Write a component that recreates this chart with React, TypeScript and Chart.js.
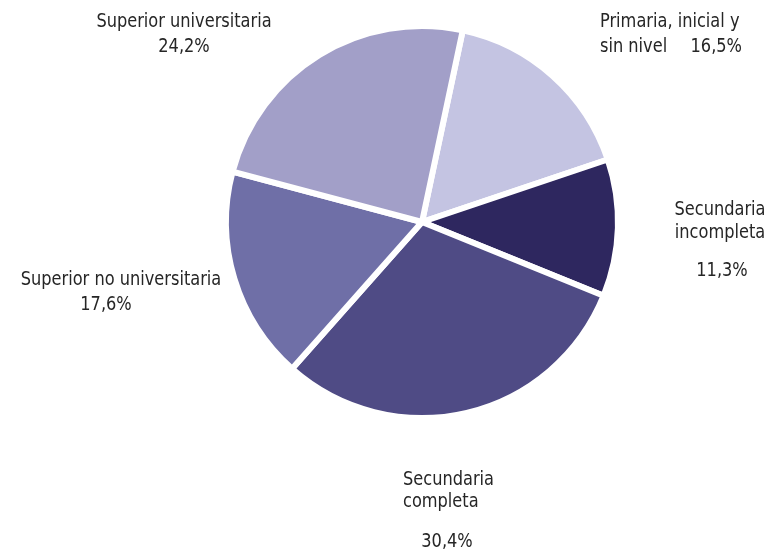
import React, { useEffect, useRef } from "react";
import { Chart, registerables } from "chart.js";

Chart.register(...registerables);

const categories = [
  "Primaria, inicial y sin nivel",
  "Secundaria incompleta",
  "Secundaria completa",
  "Superior no universitaria",
  "Superior universitaria",
];
const values = [16.5, 11.3, 30.4, 17.6, 24.2];
const valueLabels = ["16,5%", "11,3%", "30,4%", "17,6%", "24,2%"];
const colors = ["#c4c4e2", "#2e275f", "#4f4b85", "#6f6fa7", "#a29fc8"];

// label layout: lines with position relative to pie center, alignment
type Line = { text: string; dx: number; dy: number; align: CanvasTextAlign };
const labelLayout: Line[][] = [
  [
    { text: "Primaria, inicial y", dx: 178, dy: -200, align: "left" },
    { text: "sin nivel", dx: 178, dy: -175, align: "left" },
    { text: valueLabels[0], dx: 320, dy: -175, align: "right" },
  ],
  [
    { text: "Secundaria", dx: 298, dy: -12, align: "center" },
    { text: "incompleta", dx: 298, dy: 11, align: "center" },
    { text: valueLabels[1], dx: 300, dy: 49, align: "center" },
  ],
  [
    { text: "Secundaria", dx: -19, dy: 258, align: "left" },
    { text: "completa", dx: -19, dy: 280, align: "left" },
    { text: valueLabels[2], dx: 25, dy: 320, align: "center" },
  ],
  [
    { text: "Superior no universitaria", dx: -301, dy: 58, align: "center" },
    { text: valueLabels[3], dx: -316, dy: 83, align: "center" },
  ],
  [
    { text: "Superior universitaria", dx: -238, dy: -200, align: "center" },
    { text: valueLabels[4], dx: -238, dy: -175, align: "center" },
  ],
];

const FONT = '20px "DejaVu Sans Condensed", "Liberation Sans Narrow", sans-serif';
const X_SCALE = 0.9;

const labelPlugin = {
  id: "pieLabels",
  afterDatasetsDraw(chart: any) {
    const arc = chart.getDatasetMeta(0).data[0];
    if (!arc) return;
    const cx = arc.x;
    const cy = arc.y;
    const ctx = chart.ctx;
    labelLayout.forEach((lines) => {
      lines.forEach((l) => {
        ctx.save();
        ctx.font = FONT;
        ctx.fillStyle = "#262626";
        ctx.textBaseline = "middle";
        ctx.textAlign = l.align;
        ctx.translate(cx + l.dx, cy + l.dy);
        ctx.scale(X_SCALE, 1);
        ctx.fillText(l.text, 0, 0);
        ctx.restore();
      });
    });
  },
};

export default function App() {
  const ref = useRef<HTMLCanvasElement>(null);
  useEffect(() => {
    if (!ref.current) return;
    const chart = new Chart(ref.current, {
      type: "pie",
      data: {
        labels: categories,
        datasets: [
          {
            data: values,
            backgroundColor: colors,
            borderColor: "#ffffff",
            borderWidth: 6,
          },
        ],
      },
      options: {
        responsive: false,
        animation: false,
        rotation: 12,
        layout: { padding: { left: 223, right: 152, top: 23, bottom: 137 } },
        plugins: {
          legend: { display: false },
          tooltip: { enabled: false },
        },
      },
      plugins: [labelPlugin],
    });
    return () => chart.destroy();
  }, []);
  return (
    <div style={{ position: "fixed", left: 0, top: 0, width: 773, height: 558, background: "#fff" }}>
      <canvas ref={ref} width={773} height={558} style={{ width: 773, height: 558 }} />
    </div>
  );
}
